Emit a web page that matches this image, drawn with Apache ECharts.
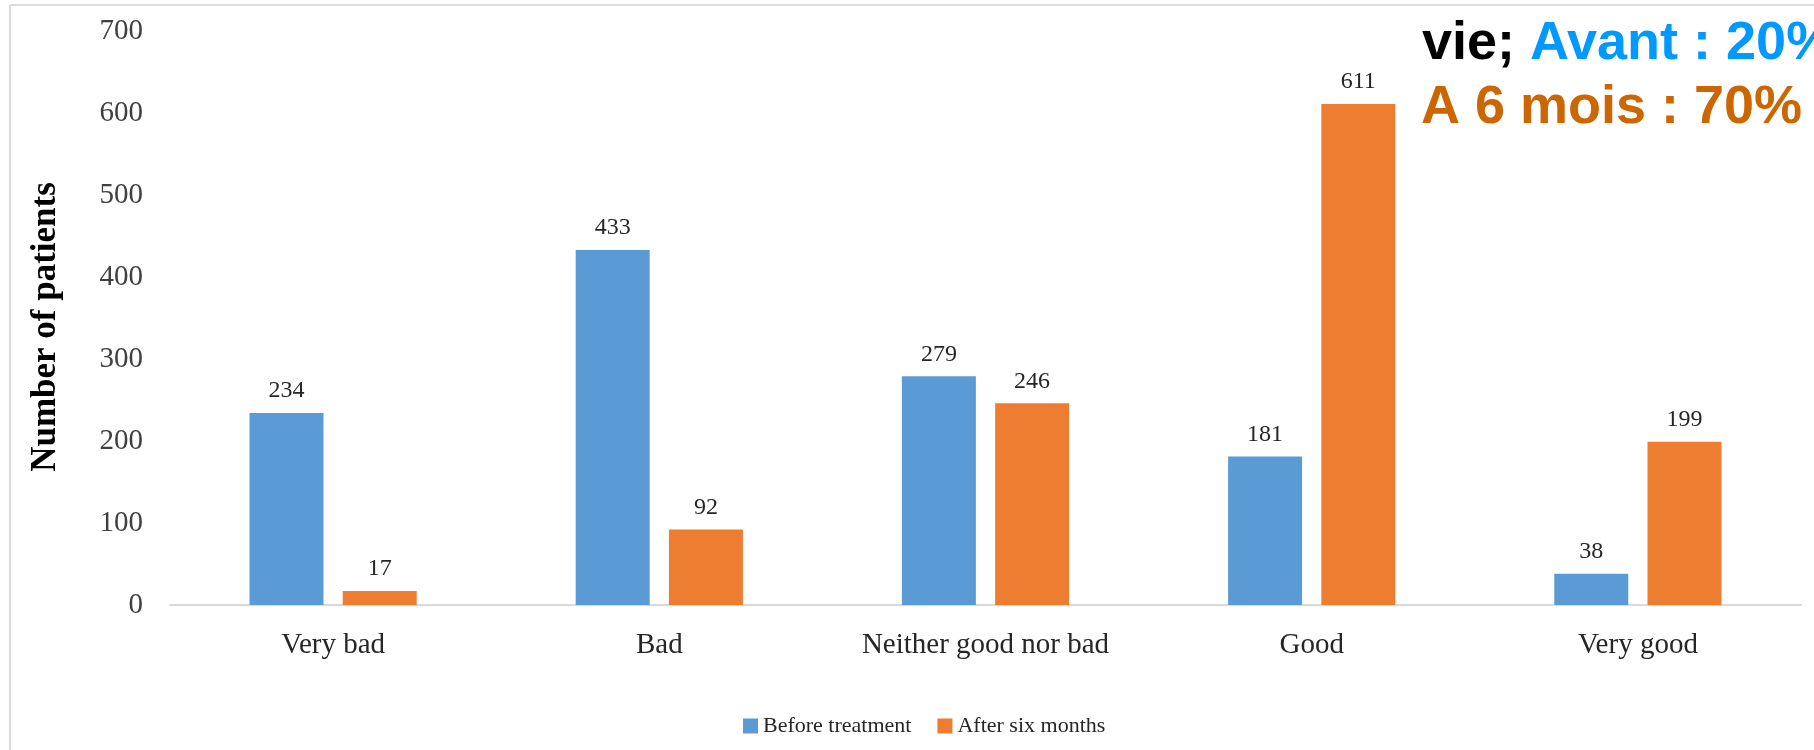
<!DOCTYPE html>
<html>
<head>
<meta charset="utf-8">
<script src="https://cdn.jsdelivr.net/npm/echarts@6/dist/echarts.min.js"></script>
<style>
html,body{margin:0;padding:0;background:#fff;}
#chart{width:1814px;height:750px;}
</style>
</head>
<body>
<div id="chart"></div>
<script>
const categories = ['Very bad', 'Bad', 'Neither good nor bad', 'Good', 'Very good'];
const beforeTreatment = [234, 433, 279, 181, 38];
const afterSixMonths = [17, 92, 246, 611, 199];
const seriesNames = ['Before treatment', 'After six months'];
const yTicks = { min: 0, max: 700, interval: 100 };
const yAxisTitle = 'Number of patients';

const chart = echarts.init(document.getElementById('chart'));
const serif = 'Liberation Serif';
const sans = 'Liberation Sans';
chart.setOption({
  backgroundColor: '#fff',
  animation: false,
  grid: { left: 170, right: 13, top: 31, bottom: 145, containLabel: false },
  legend: {
    data: seriesNames,
    left: 738,
    top: 710,
    itemWidth: 15,
    itemHeight: 15,
    itemGap: 26,
    icon: 'rect',
    textStyle: { fontFamily: serif, fontSize: 22, color: '#262626' }
  },
  xAxis: {
    type: 'category',
    data: categories,
    axisLine: { show: true, lineStyle: { color: '#d9d9d9', width: 2 } },
    axisTick: { show: false },
    axisLabel: { fontFamily: serif, fontSize: 29, color: '#262626', margin: 26 }
  },
  yAxis: {
    type: 'value',
    min: yTicks.min,
    max: yTicks.max,
    interval: yTicks.interval,
    axisLine: { show: false },
    axisTick: { show: false },
    splitLine: { show: false },
    axisLabel: { fontFamily: serif, fontSize: 29, color: '#404040', margin: 27 }
  },
  series: [
    {
      name: seriesNames[0],
      type: 'bar',
      data: beforeTreatment,
      barWidth: 74,
      barGap: '26%',
      itemStyle: { color: '#5B9BD5' },
      label: { show: true, position: 'top', distance: 10, fontFamily: serif, fontSize: 24, color: '#262626' }
    },
    {
      name: seriesNames[1],
      type: 'bar',
      data: afterSixMonths,
      barWidth: 74,
      itemStyle: { color: '#ED7D31' },
      label: { show: true, position: 'top', distance: 10, fontFamily: serif, fontSize: 24, color: '#262626' }
    }
  ],
  graphic: [
    { type: 'line', silent: true, shape: { x1: 10, y1: 5, x2: 1814, y2: 5 }, style: { stroke: '#dcdcdc', lineWidth: 2 } },
    { type: 'line', silent: true, shape: { x1: 10, y1: 5, x2: 10, y2: 750 }, style: { stroke: '#dcdcdc', lineWidth: 2 } },
    {
      type: 'text', x: 46, y: 327, rotation: Math.PI / 2, silent: true,
      style: {
        text: yAxisTitle, align: 'center', verticalAlign: 'middle',
        fontFamily: serif, fontSize: 35, fontWeight: 'bold', fill: '#000'
      }
    },
    {
      type: 'text', x: 1422, y: 71, silent: true,
      style: {
        text: '{k|vie; }{b|Avant : 20%}',
        verticalAlign: 'bottom',
        rich: {
          k: { fontFamily: sans, fontWeight: 'bold', fontSize: 54, fill: '#000' },
          b: { fontFamily: sans, fontWeight: 'bold', fontSize: 54, fill: '#0099FF' }
        }
      }
    },
    {
      type: 'text', x: 1421, y: 135, silent: true,
      style: {
        text: 'A 6 mois : 70%',
        verticalAlign: 'bottom',
        fontFamily: sans, fontWeight: 'bold', fontSize: 54, fill: '#CC6600'
      }
    }
  ]
});
</script>
</body>
</html>
